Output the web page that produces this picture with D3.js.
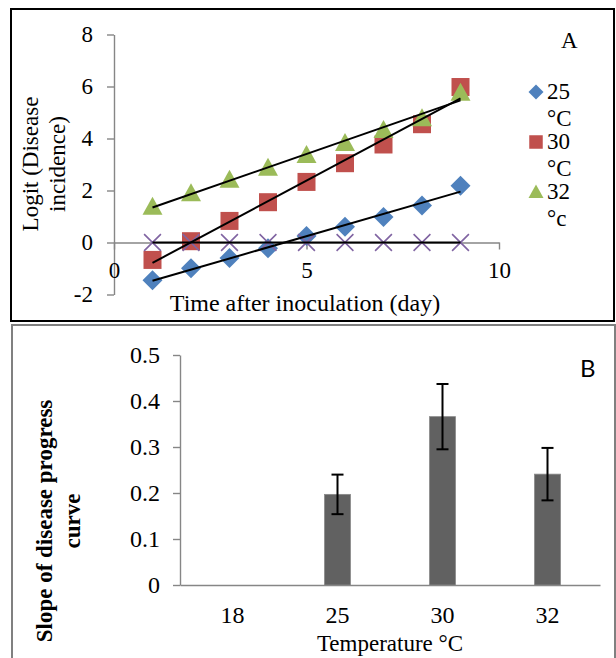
<!DOCTYPE html>
<html>
<head>
<meta charset="utf-8">
<script src="https://cdn.jsdelivr.net/npm/d3@7"></script>
<style>
  body { margin: 0; background: #fff; }
  svg { display: block; }
  text { font-family: "Liberation Serif", "Times New Roman", serif; fill: #000; }
</style>
</head>
<body>
<script>
// panel A data: logit of disease incidence per day
const days = [1, 2, 3, 4, 5, 6, 7, 8, 9]
const logit25 = [-1.45, -0.99, -0.6, -0.22, 0.25, 0.61, 0.98, 1.42, 2.18]
const logit30 = [-0.67, 0.05, 0.83, 1.55, 2.33, 3.05, 3.77, 4.55, 5.98]
const logit32 = [1.38, 1.9, 2.42, 2.88, 3.37, 3.83, 4.33, 4.78, 5.76]
const logit18 = [0, 0, 0, 0, 0, 0, 0, 0, 0]
const legendLines = [['25', '°C'], ['30', '°C'], ['32', '°c']]
const xTicksA = [0, 5, 10]
const yTicksA = [-2, 0, 2, 4, 6, 8]
const yTickLabelsA = ['-2', '0', '2', '4', '6', '8']

// panel B data: slope of disease progress curve
const temps = ['18', '25', '30', '32']
const slopes = [0, 0.197, 0.366, 0.241]
const slopeErr = [0, 0.043, 0.071, 0.057]
const yTicksB = [0, 0.1, 0.2, 0.3, 0.4, 0.5]
const yTickLabelsB = ['0', '0.1', '0.2', '0.3', '0.4', '0.5']

const width = 616, height = 658
const axisGrey = '#868686'

const svg = d3.select('body').append('svg').attr('width', width).attr('height', height)

// ---------- panel A ----------
svg.append('rect').attr('x', 11).attr('y', 9).attr('width', 603).attr('height', 312)
    .attr('fill', 'none').attr('stroke', '#000').attr('stroke-width', 2)

const xA = d3.scaleLinear([0, 10], [114, 499])
const yA = d3.scaleLinear([-2, 8], [294.5, 34.5])

const yAxisA = svg.append('g').attr('transform', `translate(${xA(0)},0)`)
    .call(d3.axisLeft(yA).tickValues(yTicksA).tickFormat((d, i) => yTickLabelsA[i])
        .tickSize(7).tickSizeOuter(0).tickPadding(14))
const xAxisA = svg.append('g').attr('transform', `translate(0,${yA(0)})`)
    .call(d3.axisBottom(xA).tickValues(xTicksA).tickSize(7).tickSizeOuter(0).tickPadding(12))

for (const ax of [yAxisA, xAxisA]) {
    ax.select('.domain').attr('stroke', axisGrey).attr('stroke-width', 1.4)
    ax.selectAll('.tick line').attr('stroke', axisGrey).attr('stroke-width', 1.4)
    ax.selectAll('.tick text').style('font-family', '"Liberation Serif", serif').style('font-size', '23px').attr('fill', '#000')
}

const series = [
    {vals: logit25, color: '#4F81BD', shape: 'diamond'},
    {vals: logit30, color: '#C0504D', shape: 'square'},
    {vals: logit32, color: '#9BBB59', shape: 'triangle'},
    {vals: logit18, color: '#8064A2', shape: 'x'}
]

function marker(g, shape, color, s) {
    if (shape === 'diamond') {
        g.append('path').attr('d', `M0,${-s / 2}L${s / 2},0L0,${s / 2}L${-s / 2},0Z`).attr('fill', color)
    } else if (shape === 'square') {
        const a = s * 0.9
        g.append('rect').attr('x', -a / 2).attr('y', -a / 2).attr('width', a).attr('height', a).attr('fill', color)
    } else if (shape === 'triangle') {
        const h = s * 0.9
        g.append('path').attr('d', `M0,${-h * 0.55}L${s / 2},${h * 0.45}L${-s / 2},${h * 0.45}Z`).attr('fill', color)
    } else {
        const a = s * 0.42
        g.append('path').attr('d', `M${-a},${-a}L${a},${a}M${a},${-a}L${-a},${a}`)
            .attr('stroke', color).attr('stroke-width', 1.6).attr('fill', 'none')
    }
}

series.forEach(sr => {
    sr.vals.forEach((v, i) => {
        const g = svg.append('g').attr('transform', `translate(${xA(days[i])},${yA(v)})`)
        marker(g, sr.shape, sr.color, 20)
    })
})

// linear trend lines (least squares, like Excel)
function fit(xs, ys) {
    const mx = d3.mean(xs), my = d3.mean(ys)
    const b = d3.sum(xs, (x, i) => (x - mx) * (ys[i] - my)) / d3.sum(xs, x => (x - mx) ** 2)
    return x => my + b * (x - mx)
}
series.forEach(sr => {
    const f = fit(days, sr.vals)
    const x0 = d3.min(days), x1 = d3.max(days)
    svg.append('line')
        .attr('x1', xA(x0)).attr('y1', yA(f(x0)))
        .attr('x2', xA(x1)).attr('y2', yA(f(x1)))
        .attr('stroke', '#000').attr('stroke-width', 2)
})

// legend
legendLines.forEach((lines, i) => {
    const cy = 92 + i * 50
    const g = svg.append('g').attr('transform', `translate(536,${cy})`)
    marker(g, series[i].shape, series[i].color, 15)
    lines.forEach((t, j) => {
        svg.append('text').attr('x', 547).attr('y', cy + 7 + j * 27)
            .style('font-size', '23px').text(t)
    })
})

svg.append('text').attr('x', 561).attr('y', 48).style('font-size', '23px').text('A')

svg.append('text').attr('x', 305).attr('y', 311).attr('text-anchor', 'middle')
    .style('font-size', '24px').text('Time after inoculation (day)')

const yTitleA = svg.append('text').attr('transform', 'translate(0,164) rotate(-90)')
    .attr('text-anchor', 'middle').style('font-size', '23px')
yTitleA.append('tspan').attr('x', 0).attr('y', 38).text('Logit (Disease')
yTitleA.append('tspan').attr('x', 0).attr('y', 65).text('incidence)')

// ---------- panel B ----------
svg.append('rect').attr('x', 12).attr('y', 325).attr('width', 603).attr('height', 345)
    .attr('fill', 'none').attr('stroke', '#808080').attr('stroke-width', 2)

const xB = d3.scaleBand(temps, [180, 600])
const yB = d3.scaleLinear([0, 0.5], [585, 355])
const barW = 26

const yAxisB = svg.append('g').attr('transform', `translate(${xB.range()[0]},0)`)
    .call(d3.axisLeft(yB).tickValues(yTicksB).tickFormat((d, i) => yTickLabelsB[i])
        .tickSize(7).tickSizeOuter(0).tickPadding(13))
const xAxisB = svg.append('g').attr('transform', `translate(0,${yB(0)})`)
    .call(d3.axisBottom(xB).tickSize(0).tickSizeOuter(0).tickPadding(21))

for (const ax of [yAxisB, xAxisB]) {
    ax.select('.domain').attr('stroke', axisGrey).attr('stroke-width', 1.4)
    ax.selectAll('.tick line').attr('stroke', axisGrey).attr('stroke-width', 1.4)
    ax.selectAll('.tick text').style('font-family', '"Liberation Serif", serif').style('font-size', '24px').attr('fill', '#000')
}

temps.forEach((t, i) => {
    if (slopes[i] <= 0) return
    const cx = xB(t) + xB.bandwidth() / 2
    svg.append('rect')
        .attr('x', cx - barW / 2).attr('y', yB(slopes[i]))
        .attr('width', barW).attr('height', yB(0) - yB(slopes[i]))
        .attr('fill', '#616161').attr('stroke', '#8a8a8a').attr('stroke-width', 0.8)
    const top = yB(slopes[i] + slopeErr[i]), bot = yB(slopes[i] - slopeErr[i])
    const eb = svg.append('g').attr('stroke', '#000').attr('stroke-width', 2)
    eb.append('line').attr('x1', cx).attr('x2', cx).attr('y1', top).attr('y2', bot)
    eb.append('line').attr('x1', cx - 6).attr('x2', cx + 6).attr('y1', top).attr('y2', top)
    eb.append('line').attr('x1', cx - 6).attr('x2', cx + 6).attr('y1', bot).attr('y2', bot)
})

svg.append('text').attr('x', 580).attr('y', 377)
    .style('font-family', 'Lato, "Liberation Sans", sans-serif').style('font-size', '24px').text('B')

svg.append('text').attr('x', 390).attr('y', 651).attr('text-anchor', 'middle')
    .style('font-size', '23px').text('Temperature °C')

const yTitleB = svg.append('text').attr('transform', 'translate(0,521) rotate(-90)')
    .attr('text-anchor', 'middle').style('font-size', '23px').style('font-weight', 'bold')
yTitleB.append('tspan').attr('x', 0).attr('y', 52).text('Slope of disease progress')
yTitleB.append('tspan').attr('x', 0).attr('y', 80).text('curve')
</script>
</body>
</html>
